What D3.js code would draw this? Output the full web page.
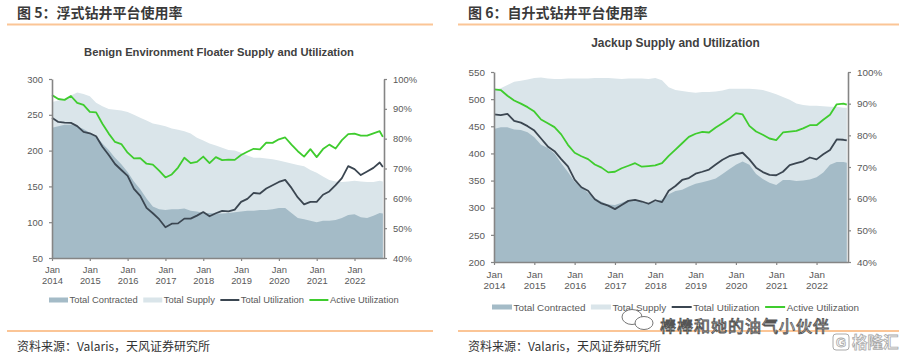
<!DOCTYPE html>
<html><head><meta charset="utf-8">
<script src="https://cdn.jsdelivr.net/npm/d3@7"></script>
<style>
html,body{margin:0;padding:0;background:#fff;}
svg{display:block;font-family:"Liberation Sans",Arial,sans-serif;}
</style></head><body>
<svg id="c" width="907" height="357"></svg>
<script>
// ---------------- data ----------------
const months = [
 "2014-01","2014-03","2014-05","2014-07","2014-09","2014-11",
 "2015-01","2015-03","2015-05","2015-07","2015-09","2015-11",
 "2016-01","2016-03","2016-05","2016-07","2016-09","2016-11",
 "2017-01","2017-03","2017-05","2017-07","2017-09","2017-11",
 "2018-01","2018-03","2018-05","2018-07","2018-09","2018-11",
 "2019-01","2019-03","2019-05","2019-07","2019-09","2019-11",
 "2020-01","2020-03","2020-05","2020-07","2020-09","2020-11",
 "2021-01","2021-03","2021-05","2021-07","2021-09","2021-11",
 "2022-01","2022-03","2022-05","2022-07","2022-09","2022-10"];
const yearTicks = ["2014","2015","2016","2017","2018","2019","2020","2021","2022"];
const tickMonth = "Jan";
const floaterYTicks = [50,100,150,200,250,300];
const jackupYTicks = [200,250,300,350,400,450,500,550];
const pctTicks = [40,50,60,70,80,90,100];
const legendLabels = ["Total Contracted","Total Supply","Total Utilization","Active Utilization"];

// Figure 5: Benign Environment Floaters
const floaterSupply = [268,270,272,277,281,279, 276,267,262,258,257,256, 254,250,246,242,238,236,
 234,231,229,227,224,218, 214,210,207,204,201,200, 197,193,190,190,189,188,
 186,184,182,180,178,173, 169,164,159,157,156,157, 158,157,156,156,158,157];
const floaterContracted = [232,234,236,236,234,230, 225,220,210,201,190,181, 170,157,146,133,122,118,
 117,118,118,119,116,115, 113,113,112,112,113,114, 115,116,116,117,117,118,
 120,120,113,106,104,102, 100,102,102,103,106,110, 111,107,106,109,113,112];
const floaterTotalUtil = [87.0,85.6,85.4,85.3,84.2,82.3, 81.8,80.8,77.3,74.5,71.5,69.5, 67.5,63.2,60.8,56.8,55.0,53.0,
 50.3,51.5,51.6,53.2,53.2,54.2, 55.4,54.0,55.0,55.8,55.6,56.2, 58.8,59.8,61.8,61.6,63.3,64.4,
 65.5,66.2,63.5,60.3,58.0,58.8, 58.8,61.2,62.3,64.4,66.8,70.8, 69.8,67.8,69.0,70.2,72.0,70.5];
const floaterActiveUtil = [94.6,93.3,93.0,94.3,92.0,91.3, 89.0,88.8,85.0,81.7,78.9,78.2, 75.3,73.4,73.5,71.6,71.3,69.3,
 67.0,68.0,70.3,73.6,71.8,72.2, 74.0,71.8,73.8,72.8,73.0,72.9, 74.5,75.6,76.6,76.4,78.7,78.6,
 79.8,80.4,78.0,75.8,74.0,76.5, 73.8,76.5,78.0,76.7,79.5,81.5, 81.7,81.0,81.0,81.8,82.5,80.6];

// Figure 6: Jackups
const jackupSupply = [518,520,526,532,534,536, 539,540,538,537,537,538, 538,538,538,539,539,539,
 538,537,538,538,538,537, 539,535,522,517,515,513, 512,513,513,514,516,519,
 519,519,519,518,517,513, 509,504,499,492,489,488, 488,487,486,486,484,484];
const jackupContracted = [445,448,448,444,443,439, 430,416,410,400,382,366, 348,339,327,318,311,306,
 305,309,314,315,312,309, 311,315,325,331,333,339, 344,347,350,354,362,371,
 379,385,379,362,353,346, 342,351,351,349,350,352, 356,365,379,384,384,383];
const jackupTotalUtil = [86.6,86.4,86.8,84.6,84.0,82.9, 81.5,79.0,76.5,75.0,72.5,70.2, 66.0,63.6,62.5,59.8,58.5,57.8,
 56.7,58.0,59.3,59.6,59.1,58.4, 59.5,58.9,62.5,64.0,65.9,66.5, 67.9,68.5,69.2,70.8,72.3,73.4,
 74.0,74.5,72.4,69.8,68.4,67.5, 67.4,68.5,70.6,71.2,71.8,73.0, 72.4,74.0,75.4,78.7,78.6,78.4];
const jackupActiveUtil = [94.5,94.3,92.5,91.0,90.0,88.9, 87.5,85.0,83.8,82.6,80.3,77.0, 74.5,73.4,72.5,70.8,69.8,68.3,
 68.5,69.6,70.4,71.2,70.1,70.3, 70.5,71.2,73.5,75.5,77.5,79.5, 80.5,81.1,80.9,82.5,83.8,85.2,
 87.0,86.6,83.0,81.2,80.2,79.0, 78.5,80.9,81.2,81.4,82.2,83.2, 83.2,84.9,86.5,89.8,90.0,89.7];

// ---------------- drawing ----------------
const C_CONTR = "#a4bbc7", C_SUPPLY = "#dae5ea", C_TU = "#3b4651", C_AU = "#3fcc2e";
const C_AXIS = "#858585", C_TXT = "#595959", C_ORANGE = "#fbc596";
const svg = d3.select("#c");
const toYear = m => { const [y, mo] = m.split("-").map(Number); return y + (mo - 1) / 12; };

function drawPanel(cfg) {
  const g = svg.append("g");
  // figure header
  g.append("text").attr("x", cfg.figX).attr("y", 18).text(cfg.figTitle)
    .attr("font-family", "'Noto Sans CJK SC'").attr("font-weight", "bold")
    .attr("font-size", 14).attr("fill", "#3a3a3a");
  g.append("line").attr("x1", cfg.sepX0).attr("x2", cfg.sepX1).attr("y1", 24.5).attr("y2", 24.5)
    .attr("stroke", C_ORANGE).attr("stroke-width", 2);
  g.append("line").attr("x1", cfg.sepX0).attr("x2", cfg.sepX1).attr("y1", 331).attr("y2", 331)
    .attr("stroke", C_ORANGE).attr("stroke-width", 2);
  g.append("text").attr("x", cfg.figX).attr("y", 351).text("资料来源：Valaris，天风证券研究所")
    .attr("font-family", "'Noto Sans CJK SC'").attr("font-size", 12).attr("fill", "#333");

  // chart title
  g.append("text").attr("x", cfg.titleX).attr("y", cfg.titleY).attr("text-anchor", "middle")
    .attr("font-weight", "bold").attr("font-size", cfg.titleSize).attr("fill", "#404040").text(cfg.title);

  const x = d3.scaleLinear().domain([2014, 2022.78]).range([cfg.x0, cfg.x1]);
  const yL = d3.scaleLinear().domain(cfg.yDomain).range([cfg.yBot, cfg.yTop]);
  const yR = d3.scaleLinear().domain([40, 100]).range([cfg.yBot, cfg.yTop]);
  const rows = months.map((m, i) => ({ t: toYear(m), s: cfg.supply[i], c: cfg.contracted[i],
    tu: cfg.totalUtil[i], au: cfg.activeUtil[i] }));

  const base = yL(cfg.yDomain[0]);
  g.append("path").datum(rows).attr("fill", C_SUPPLY)
    .attr("d", d3.area().x(d => x(d.t)).y0(base).y1(d => yL(d.s)));
  g.append("path").datum(rows).attr("fill", C_CONTR)
    .attr("d", d3.area().x(d => x(d.t)).y0(base).y1(d => yL(d.c)));
  g.append("path").datum(rows).attr("fill", "none").attr("stroke", C_TU).attr("stroke-width", 1.8)
    .attr("stroke-linejoin", "round").attr("d", d3.line().x(d => x(d.t)).y(d => yR(d.tu)));
  g.append("path").datum(rows).attr("fill", "none").attr("stroke", C_AU).attr("stroke-width", 1.8)
    .attr("stroke-linejoin", "round").attr("d", d3.line().x(d => x(d.t)).y(d => yR(d.au)));

  const fs = cfg.fontSize;
  const styleAxis = sel => {
    sel.selectAll(".domain").attr("stroke", C_AXIS).attr("stroke-width", 1.6);
    sel.selectAll(".tick line").attr("stroke", C_AXIS).attr("stroke-width", 1.2);
    sel.selectAll(".tick text").attr("fill", C_TXT).attr("font-size", fs)
      .attr("font-family", "'Liberation Sans', Arial, sans-serif");
  };
  // left axis
  const gl = g.append("g").attr("transform", `translate(${cfg.x0},0)`)
    .call(d3.axisLeft(yL).tickValues(cfg.yTicks).tickSize(3).tickSizeOuter(0).tickPadding(6));
  styleAxis(gl);
  // right axis
  const gr = g.append("g").attr("transform", `translate(${cfg.x1},0)`)
    .call(d3.axisRight(yR).tickValues(pctTicks).tickSize(3).tickSizeOuter(0).tickPadding(6)
      .tickFormat(d => d + "%"));
  styleAxis(gr);
  // bottom axis
  const yearNums = yearTicks.map(Number);
  const gb = g.append("g").attr("transform", `translate(0,${cfg.yBot})`)
    .call(d3.axisBottom(x).tickValues(yearNums).tickSize(3).tickSizeOuter(0).tickFormat(""));
  styleAxis(gb);
  gb.selectAll(".tick").each(function (d, i) {
    const t = d3.select(this).select("text").text(null).attr("y", 0).attr("dy", null);
    t.append("tspan").attr("x", 0).attr("y", cfg.janDy).text(tickMonth);
    t.append("tspan").attr("x", 0).attr("y", cfg.yearDy).text(yearTicks[i]);
  });

  // legend
  const colors = [C_CONTR, C_SUPPLY, C_TU, C_AU];
  let lx = cfg.legendX;
  const ly = cfg.legendY;
  legendLabels.forEach((lab, i) => {
    if (i < 2) g.append("rect").attr("x", lx).attr("y", ly - 2.5).attr("width", cfg.sw).attr("height", 5).attr("fill", colors[i]);
    else g.append("line").attr("x1", lx).attr("x2", lx + cfg.sw).attr("y1", ly).attr("y2", ly)
      .attr("stroke", colors[i]).attr("stroke-width", 2);
    const tx = g.append("text").attr("x", lx + cfg.sw + 1.5).attr("y", ly + fs * 0.36)
      .attr("font-size", fs).attr("fill", C_TXT).text(lab);
    lx = lx + cfg.sw + 1.5 + tx.node().getComputedTextLength() + 5.5;
  });
}

drawPanel({
  figX: 17, figTitle: "图 5：浮式钻井平台使用率", sepX0: 7, sepX1: 433,
  title: "Benign Environment Floater Supply and Utilization", titleX: 219, titleY: 56, titleSize: 11.2,
  x0: 52, x1: 384, yTop: 79, yBot: 258, yDomain: [50, 300], yTicks: floaterYTicks,
  fontSize: 9.4, janDy: 15.3, yearDy: 25.5,
  legendX: 49, legendY: 300, sw: 19,
  supply: floaterSupply, contracted: floaterContracted, totalUtil: floaterTotalUtil, activeUtil: floaterActiveUtil
});
drawPanel({
  figX: 468, figTitle: "图 6：自升式钻井平台使用率", sepX0: 458, sepX1: 899,
  title: "Jackup Supply and Utilization", titleX: 675.5, titleY: 47, titleSize: 11.9,
  x0: 494, x1: 848, yTop: 72, yBot: 262, yDomain: [200, 550], yTicks: jackupYTicks,
  fontSize: 9.9, janDy: 15.8, yearDy: 27.2,
  legendX: 492, legendY: 307, sw: 20,
  supply: jackupSupply, contracted: jackupContracted, totalUtil: jackupTotalUtil, activeUtil: jackupActiveUtil
});

// watermark overlay (as in the source image), set between legend and source line
const wm = svg.append("g");
wm.append("ellipse").attr("cx", 632).attr("cy", 317).attr("rx", 10).attr("ry", 7.5)
  .attr("fill", "#fff").attr("stroke", "#666").attr("stroke-width", 0.9);
wm.append("ellipse").attr("cx", 644).attr("cy", 323).attr("rx", 9).attr("ry", 6.5)
  .attr("fill", "#fff").attr("stroke", "#666").attr("stroke-width", 0.9);
wm.append("text").attr("x", 660).attr("y", 331.5).text("棒棒和她的油气小伙伴")
  .attr("font-family", "'Noto Sans CJK SC'").attr("font-size", 16).attr("letter-spacing", 1)
  .attr("fill", "#fff").attr("stroke", "#555").attr("stroke-width", 0.9);
wm.append("rect").attr("x", 833).attr("y", 334).attr("width", 16).attr("height", 16).attr("rx", 3)
  .attr("fill", "#fff").attr("stroke", "#aaa").attr("stroke-width", 1);
wm.append("text").attr("x", 841).attr("y", 347).attr("text-anchor", "middle").text("G")
  .attr("font-weight", "bold").attr("font-size", 13).attr("fill", "#fff").attr("stroke", "#aaa").attr("stroke-width", 0.8);
wm.append("text").attr("x", 852).attr("y", 348).text("格隆汇")
  .attr("font-family", "'Noto Sans CJK SC'").attr("font-weight", "bold").attr("font-size", 15.5)
  .attr("fill", "#fff").attr("stroke", "#aaa").attr("stroke-width", 0.8);
</script>
</body></html>
